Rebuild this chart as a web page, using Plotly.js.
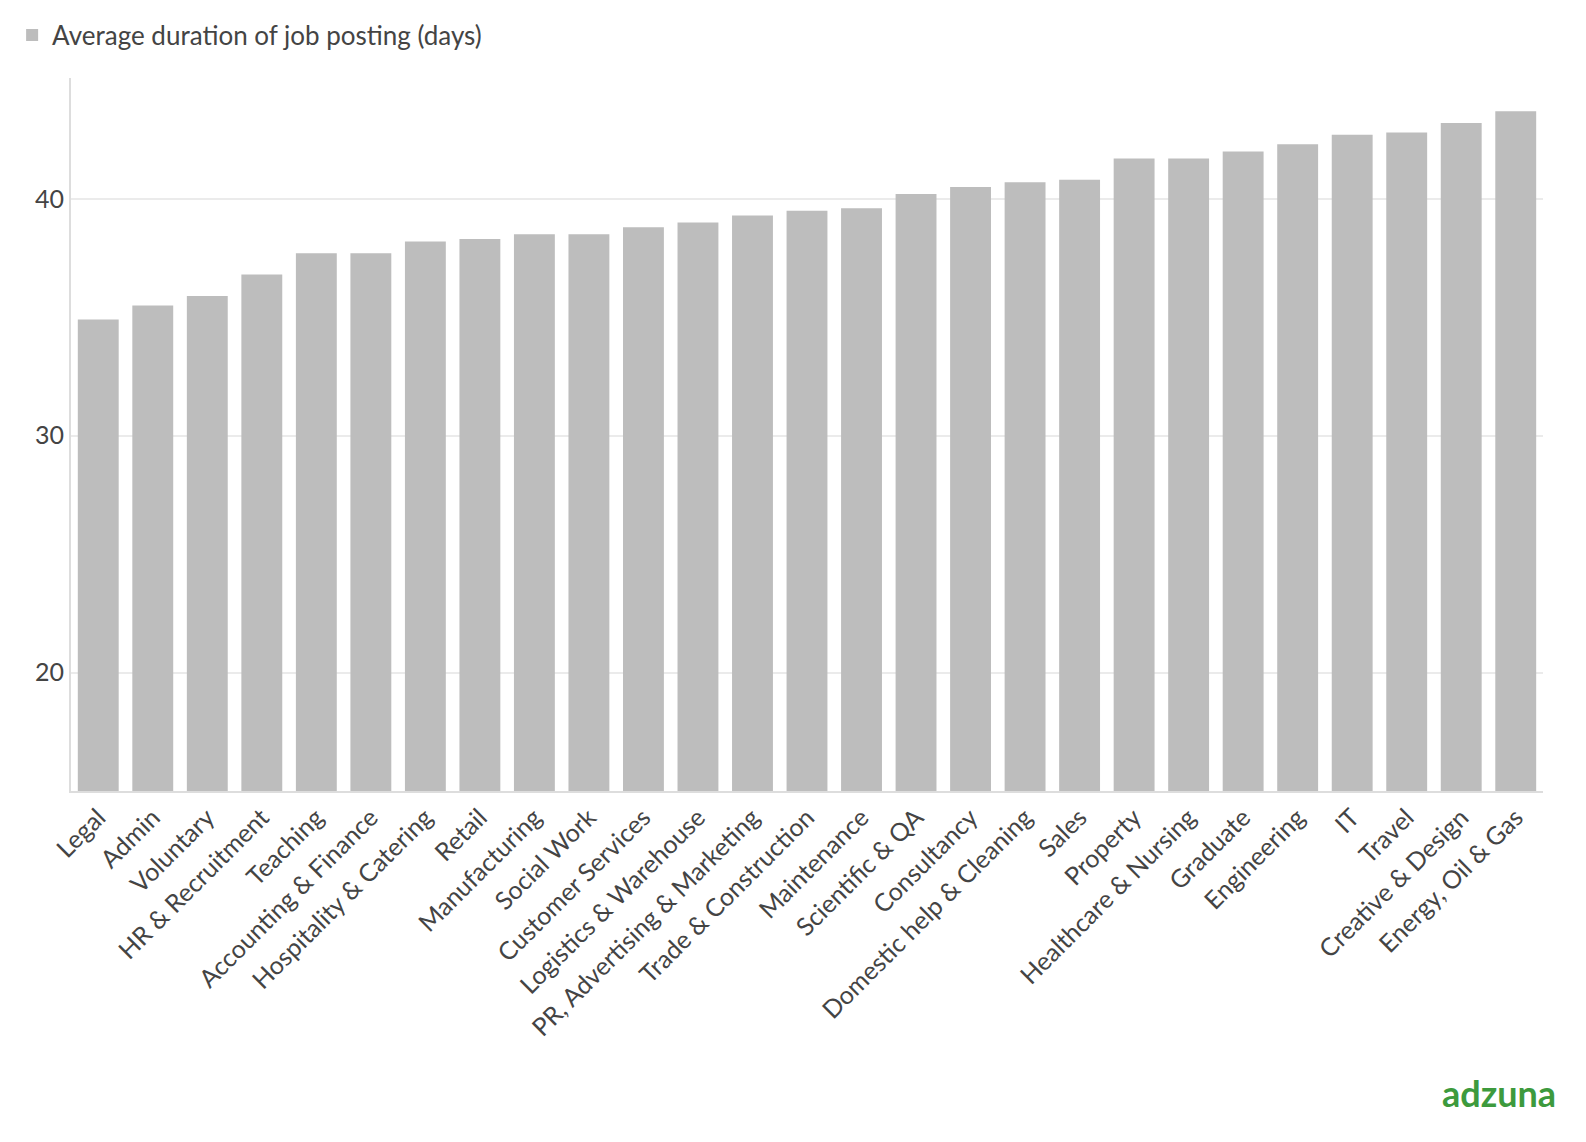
<!DOCTYPE html>
<html>
<head>
<meta charset="utf-8">
<script src="https://cdn.plot.ly/plotly-3.0.1.min.js"></script>
<style>body{margin:0;background:#fff}#chart{width:1586px;height:1142px}</style>
</head>
<body>
<div id="chart"></div>
<script>
const categories = ["Legal", "Admin", "Voluntary", "HR & Recruitment", "Teaching", "Accounting & Finance",
  "Hospitality & Catering", "Retail", "Manufacturing", "Social Work", "Customer Services",
  "Logistics & Warehouse", "PR, Advertising & Marketing", "Trade & Construction", "Maintenance",
  "Scientific & QA", "Consultancy", "Domestic help & Cleaning", "Sales", "Property",
  "Healthcare & Nursing", "Graduate", "Engineering", "IT", "Travel", "Creative & Design",
  "Energy, Oil & Gas"];
const durations = [34.9, 35.5, 35.9, 36.8, 37.7, 37.7, 38.2, 38.3, 38.5, 38.5, 38.8, 39.0, 39.3,
  39.5, 39.6, 40.2, 40.5, 40.7, 40.8, 41.7, 41.7, 42.0, 42.3, 42.7, 42.8, 43.2, 43.7];
const seriesName = "Average duration of job posting (days)";

const font = {family: "Lato, 'Open Sans', sans-serif", size: 25, color: "#444"};

Plotly.newPlot("chart", [{
  type: "bar",
  x: categories,
  y: durations,
  name: seriesName,
  marker: {color: "#bdbdbd"},
  showlegend: true
}], {
  width: 1586, height: 1142,
  font: font,
  margin: {l: 60, r: 43, t: 78, b: 351},
  bargap: 0.25,
  showlegend: true,
  legend: {x: -0.04, y: 1.06, xanchor: "left", yanchor: "middle", font: {size: 26, color: "#444"}},
  xaxis: {automargin: false, tickangle: -45, showline: true, linecolor: "#ddd", linewidth: 2, ticks: "", tickfont: {size: 25}},
  yaxis: {automargin: false, range: [15, 45.1], tickvals: [20, 30, 40], gridcolor: "#ebebeb", gridwidth: 2,
    showline: true, linecolor: "#ddd", linewidth: 2, zeroline: false, ticks: "", tickfont: {size: 25}},
  annotations: [{
    text: "<b>adzuna</b>", xref: "paper", yref: "paper", x: 1.01, y: -0.39,
    xanchor: "right", yanchor: "top", showarrow: false,
    font: {family: "Lato, sans-serif", size: 36, color: "#3d9a3d"}
  }]
}, {displayModeBar: false});
</script>
</body>
</html>
